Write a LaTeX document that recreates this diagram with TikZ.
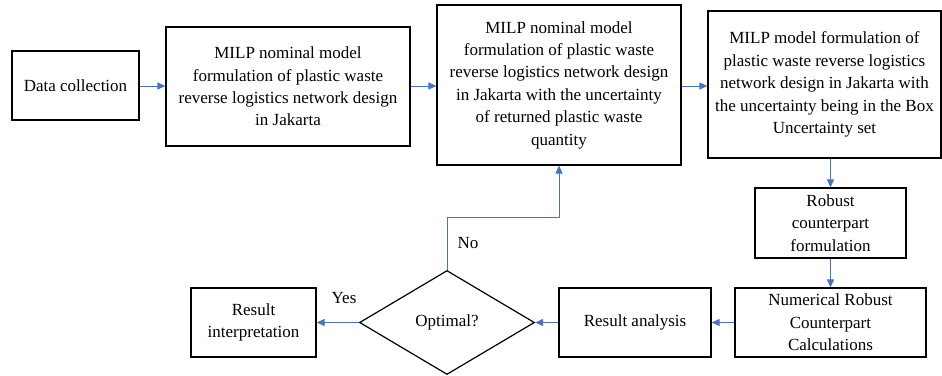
\documentclass[tikz,border=0pt]{standalone}
\usepackage{fontspec}
\setmainfont{Liberation Serif}
\usetikzlibrary{shapes.geometric,arrows.meta}
\definecolor{arrowblue}{RGB}{68,114,196}
\begin{document}
\begin{tikzpicture}[x=1pt,y=-1pt,
  txt/.style={font=\fontsize{17}{22.4}\selectfont},
  box/.style={txt,draw=black,line width=1.2pt,align=center,inner sep=2pt},
  decision/.style={box,shape=diamond,inner sep=0pt},
  arr/.style={draw=arrowblue,line width=0.9pt,-{Triangle[length=8pt,width=7pt]}}]
\useasboundingbox (0,0) rectangle (942,375);
\node[box,minimum width=127pt,minimum height=69pt] (a) at (75.5,85.5) {Data collection};
\node[box,minimum width=244pt,minimum height=119pt] (b) at (288,86.5)
  {MILP nominal model\\formulation of plastic waste\\reverse logistics network design\\in Jakarta};
\node[box,minimum width=244pt,minimum height=160pt] (c) at (559,85)
  {MILP nominal model\\formulation of plastic waste\\reverse logistics network design\\in Jakarta with the uncertainty\\of returned plastic waste\\quantity};
\node[box,minimum width=233pt,minimum height=147pt] (d) at (824.5,84.5)
  {MILP model formulation of\\plastic waste reverse logistics\\network design in Jakarta with\\the uncertainty being in the Box\\Uncertainty set};
\node[box,minimum width=151pt,minimum height=70pt] (e) at (830.5,223)
  {Robust\\counterpart\\formulation};
\node[box,minimum width=191pt,minimum height=69pt] (f) at (830.5,322.5)
  {Numerical Robust\\Counterpart\\Calculations};
\node[box,minimum width=152pt,minimum height=69pt] (g) at (635,322.5) {Result analysis};
\node[decision,minimum width=175pt,minimum height=104pt] (h) at (447,322.5) {Optimal?};
\node[box,minimum width=125pt,minimum height=69pt] (i) at (253.5,322.5) {Result\\interpretation};
\node[txt] (no) at (468,243) {No};
\node[txt] (yes) at (344,298) {Yes};
\draw[arr] (a.east |- 0,86) -- (b.west |- 0,86);
\draw[arr] (b.east |- 0,86) -- (c.west |- 0,86);
\draw[arr] (c.east |- 0,86) -- (d.west |- 0,86);
\draw[arr] (d.south -| e.north) -- (e.north);
\draw[arr] (e.south) -- (f.north);
\draw[arr] (f.west) -- (g.east);
\draw[arr] (g.west) -- (h.east);
\draw[arr] (h.west) -- (i.east);
\draw[arr] (h.north) -- (h.north |- 0,217) -| (c.south);
\end{tikzpicture}
\end{document}
